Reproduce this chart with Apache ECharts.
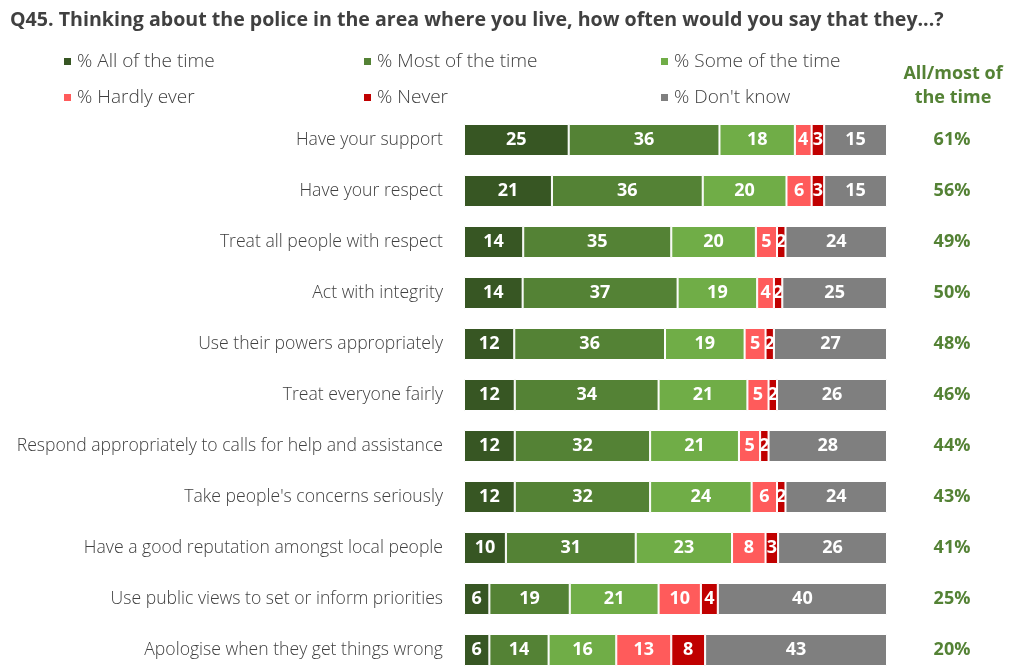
<!DOCTYPE html>
<html><head><meta charset="utf-8">
<script src="https://cdn.jsdelivr.net/npm/echarts@6/dist/echarts.min.js"></script>
<style>html,body{margin:0;padding:0;background:#fff;overflow:hidden}#c{width:1013px;height:676px}</style>
</head><body><div id="c"></div>
<script>
var categories = ["Have your support","Have your respect","Treat all people with respect","Act with integrity","Use their powers appropriately","Treat everyone fairly","Respond appropriately to calls for help and assistance","Take people's concerns seriously","Have a good reputation amongst local people","Use public views to set or inform priorities","Apologise when they get things wrong"];
var seriesNames = ["% All of the time","% Most of the time","% Some of the time","% Hardly ever","% Never","% Don't know"];
var allTime   = [25,21,14,14,12,12,12,12,10,6,6];
var mostTime  = [36,36,35,37,36,34,32,32,31,19,14];
var someTime  = [18,20,20,19,19,21,21,24,23,21,16];
var hardly    = [4,6,5,4,5,5,5,6,8,10,13];
var never     = [3,3,2,2,2,2,2,2,3,4,8];
var dontKnow  = [15,15,24,25,27,26,28,24,26,40,43];
var allMost   = [61,56,49,50,48,46,44,43,41,25,20];
var colors = ["#375623","#548235","#70AD47","#FF5B5B","#C00000","#7F7F7F"];

var raw = [allTime,mostTime,someTime,hardly,never,dontKnow];
var sums = categories.map(function(_,i){var s=0;raw.forEach(function(a){s+=a[i];});return s;});
var series = raw.map(function(arr,k){
  return {
    name: seriesNames[k], type:'bar', stack:'t', barWidth:32,
    itemStyle:{color:colors[k], borderColor:'#fff', borderWidth:1},
    label:{show:true, position:'inside', color:'#fff', fontFamily:'Open Sans', fontWeight:'bold', fontSize:18,
      formatter:function(p){return p.data.raw;}},
    data: arr.map(function(v,i){return {value: v/sums[i]*100, raw: v};})
  };
});
var legPos = [[57,47],[357,47],[654,47],[57,83],[357,83],[654,83]];
var legends = seriesNames.map(function(n,k){
  return {data:[n], left:legPos[k][0], top:legPos[k][1], icon:'rect', itemWidth:9, itemHeight:9, itemGap:7,
    selectedMode:false, textStyle:{fontFamily:'Open Sans', fontWeight:300, fontSize:19, color:'#404040', padding:[0,0,0,0]}};
});
var chart = echarts.init(document.getElementById('c'));
chart.setOption({
  animation:false,
  title:{text:'Q45. Thinking about the police in the area where you live, how often would you say that they...?', left:5, top:5,
    textStyle:{fontFamily:'Open Sans', fontWeight:'bold', fontSize:19.6, color:'#404040'}},
  legend: legends,
  graphic:[{type:'text', x:953, y:62, style:{text:'All/most of\nthe time', textAlign:'center', fill:'#548235',
    font:'bold 18px "Open Sans"', lineHeight:24}}],
  grid:{left:464, right:126, top:114.5, bottom:0.5, containLabel:false},
  xAxis:{type:'value', min:0, max:100, show:false},
  yAxis:[
    {type:'category', data:categories, inverse:true, axisLine:{show:false}, axisTick:{show:false},
     axisLabel:{margin:21, color:'#404040', fontFamily:'Open Sans', fontWeight:300, fontSize:17.6}},
    {type:'category', data:allMost.map(function(v){return v+'%';}), inverse:true, position:'right',
     axisLine:{show:false}, axisTick:{show:false},
     axisLabel:{margin:65, align:'center', color:'#548235', fontFamily:'Open Sans', fontWeight:'bold', fontSize:18}}
  ],
  series: series
});
</script></body></html>
